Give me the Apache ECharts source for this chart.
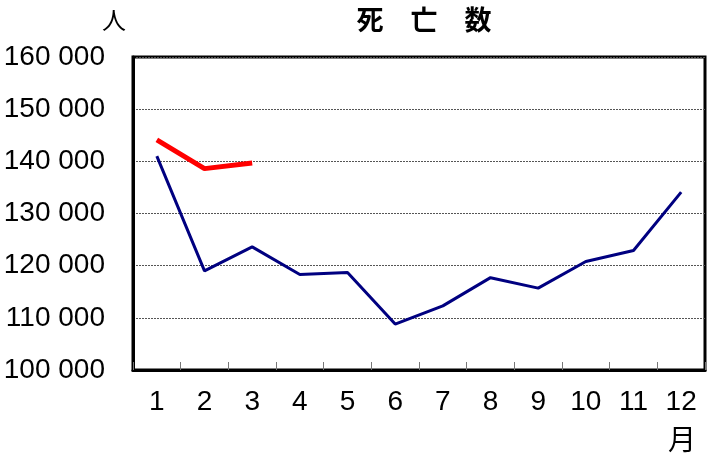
<!DOCTYPE html>
<html>
<head>
<meta charset="utf-8">
<script src="https://cdn.jsdelivr.net/npm/echarts@6/dist/echarts.min.js"></script>
<style>html,body{margin:0;padding:0;background:#fff;}#c{width:720px;height:467px;}</style>
</head>
<body>
<div id="c"></div>
<script>
const months = ['1','2','3','4','5','6','7','8','9','10','11','12'];
const deathsPrev = [141000, 119000, 123600, 118300, 118700, 108800, 112300, 117700, 115700, 120800, 122900, 134100];
const deathsCurr = [144100, 138600, 139700];
const yTicks = [100000, 110000, 120000, 130000, 140000, 150000, 160000];
const titleText = '死　亡　数';
const yUnit = '人';
const xUnit = '月';

const numFont = "'Liberation Sans', Arial, sans-serif";
const cjkFont = "'Noto Sans CJK JP', sans-serif";

const chart = echarts.init(document.getElementById('c'), null, {renderer: 'canvas'});
chart.setOption({
  animation: false,
  backgroundColor: '#fff',
  title: {
    text: titleText,
    left: 419, top: 1, textAlign: 'center',
    textStyle: {fontFamily: cjkFont, fontSize: 27, fontWeight: 'bold', color: '#000'}
  },
  graphic: [
    {type: 'text', left: 102, top: 8, style: {text: yUnit, font: '24px ' + cjkFont, fill: '#000'}},
    {type: 'text', left: 668, top: 425, style: {text: xUnit, font: '28px ' + cjkFont, fill: '#000'}}
  ],
  grid: {left: 133, right: 15, top: 57, bottom: 97, outerBoundsMode: 'none', containLabel: false,
         show: true, borderColor: '#000', borderWidth: 3, backgroundColor: 'transparent'},
  xAxis: {
    type: 'category', data: months, boundaryGap: true,
    axisLine: {lineStyle: {color: '#000', width: 3}},
    axisTick: {show: true, inside: true, length: 8, lineStyle: {color: '#777', width: 1}},
    axisLabel: {margin: 18, fontFamily: numFont, fontSize: 28, color: '#000'}
  },
  yAxis: {
    type: 'value', min: yTicks[0], max: yTicks[yTicks.length - 1], interval: 10000,
    axisLine: {show: true, lineStyle: {color: '#000', width: 3}},
    axisTick: {show: false},
    splitLine: {show: true, lineStyle: {color: '#555', width: 1, type: [2, 1]}},
    axisLabel: {
      margin: 28, fontFamily: numFont, fontSize: 28, color: '#000',
      formatter: v => String(v).replace(/\B(?=(\d{3})+(?!\d))/g, ' ')
    }
  },
  series: [
    {type: 'line', data: deathsPrev, symbol: 'none', lineStyle: {color: '#000080', width: 3}, z: 3},
    {type: 'line', data: deathsCurr, symbol: 'none', lineStyle: {color: '#ff0000', width: 5}, z: 4}
  ]
});
</script>
</body>
</html>
